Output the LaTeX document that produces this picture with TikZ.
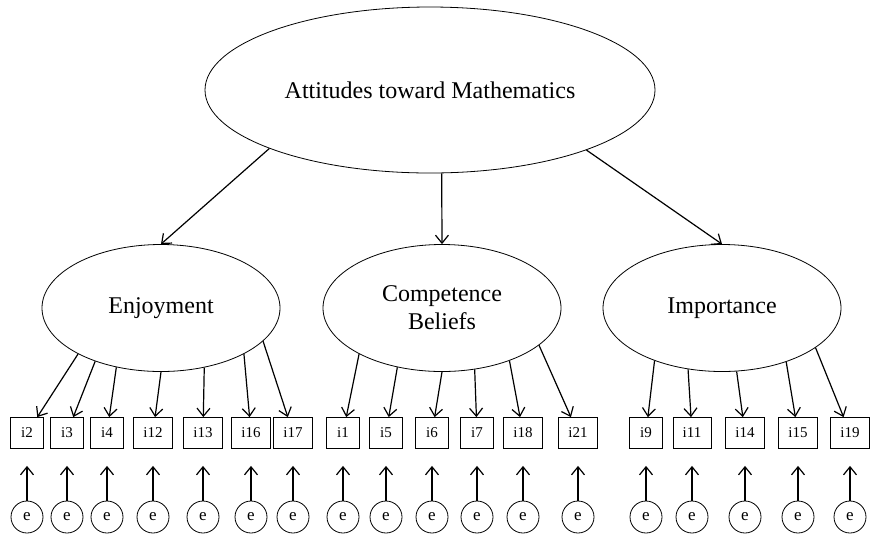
\documentclass[tikz,border=0pt]{standalone}
\usepackage{fontspec}
\setmainfont{Liberation Serif}
\usetikzlibrary{shapes.geometric,arrows.meta}

\begin{document}
\begin{tikzpicture}[x=0.5pt,y=-0.5pt,
  latent/.style={draw,ellipse,inner sep=0pt,minimum width=119pt,minimum height=63.5pt,
    align=center,font=\fontsize{12}{14}\selectfont},
  item/.style={draw,rectangle,inner xsep=4.8pt,inner ysep=0pt,minimum height=15.5pt,
    minimum width=16.5pt,font=\fontsize{7.5}{9}\selectfont},
  err/.style={draw,circle,inner sep=0pt,minimum size=16pt,font=\fontsize{8.5}{9}\selectfont},
  load/.style={-{Straight Barb[length=4pt,width=6.5pt]},line width=0.6pt}]
\useasboundingbox (0,0) rectangle (872,537);

% factors
\node[latent,minimum width=225pt,minimum height=83pt] (att) at (430,90) {Attitudes toward Mathematics};
\node[latent] (enj) at (161,308) {Enjoyment};
\node[latent] (comp) at (442,308) {Competence\\Beliefs};
\node[latent] (imp) at (722,308) {Importance};

\draw[load] (att.200) -- (enj.north);
\draw[load] (att.278) -- (comp.north);
\draw[load] (att.339) -- (imp.north);

% items with their errors
\foreach \n/\x/\f/\a in {i2/27/enj/209, i3/67/enj/219, i4/107/enj/233, i12/153/enj/270,
    i13/203/enj/306, i16/251/enj/331, i17/293/enj/342,
    i1/343/comp/209, i5/386/comp/233, i6/432/comp/270, i7/477/comp/298,
    i18/523/comp/322, i21/578/comp/339,
    i9/646/imp/218, i11/692/imp/241, i14/745/imp/283, i15/798/imp/320, i19/850/imp/337} {
  \node[item] (\n) at (\x,433) {\n};
  \node[err] (e\n) at (\x,517) {e};
  \draw[load] (\f.\a) -- (\n);
  \draw[load,shorten >=8.5pt] (e\n) -- (\n);
}
\end{tikzpicture}
\end{document}
